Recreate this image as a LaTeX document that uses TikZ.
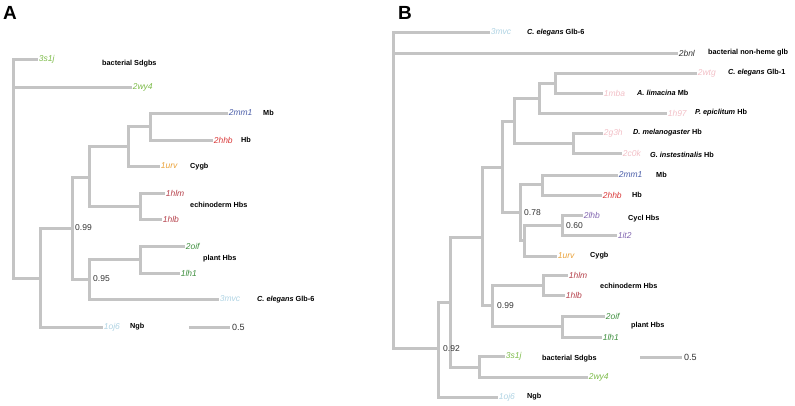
\documentclass[tikz,border=0pt]{standalone}
\usepackage{fontspec}
\setmainfont{Liberation Sans}
\definecolor{brgray}{HTML}{C4C4C4}
\definecolor{cgl}{HTML}{7DBB4A}
\definecolor{cgd}{HTML}{3F8F3F}
\definecolor{cbl}{HTML}{4B5EA8}
\definecolor{crd}{HTML}{D93A3A}
\definecolor{cor}{HTML}{EAA23A}
\definecolor{cdr}{HTML}{B5404A}
\definecolor{clb}{HTML}{AFD3E3}
\definecolor{cpk}{HTML}{F2BFC6}
\definecolor{cpu}{HTML}{8266B0}
\definecolor{cdk}{HTML}{333333}
\newcommand{\myleaf}{\fontsize{8.5}{10}\selectfont\itshape}
\newcommand{\mygrp}{\fontsize{7.3}{9}\selectfont\bfseries}
\newcommand{\mynum}{\fontsize{8.5}{10}\selectfont}
\newcommand{\mypanel}{\fontsize{19}{22}\selectfont\bfseries}
\begin{document}
\begin{tikzpicture}[x=1pt,y=-1pt,
  branch/.style={draw=brgray,line width=3pt},
  leaf/.style={anchor=west,inner sep=0.6pt,font=\myleaf},
  grp/.style={anchor=west,inner sep=0pt,font=\mygrp,text=black},
  supp/.style={anchor=west,inner sep=0pt,font=\mynum,text=cdk},
  panel/.style={anchor=west,inner sep=0pt,font=\mypanel,text=black}]
\useasboundingbox (0,0) rectangle (795,405);

% ================= Panel A =================
\node[panel] (labA) at (3,12.5) {A};
\coordinate (rA) at (13,168);
\coordinate (nA1) at (40,278);
\coordinate (nA2) at (72,228);
\coordinate (nA3) at (89,177);
\coordinate (nA4) at (128,146);
\coordinate (nA5) at (140,206);
\coordinate (nA6) at (89,279);
\coordinate (nA7) at (150,126);
\coordinate (nA8) at (140,259);

\node[leaf,text=cgl] (a3s1j) at (38,59) {3s1j};
\node[leaf,text=cgl] (a2wy4) at (132,87) {2wy4};
\node[leaf,text=cbl] (a2mm1) at (228,113) {2mm1};
\node[leaf,text=crd] (a2hhb) at (213,140) {2hhb};
\node[leaf,text=cor] (a1urv) at (160,166) {1urv};
\node[leaf,text=cdr] (a1hlm) at (165,193) {1hlm};
\node[leaf,text=cdr] (a1hlb) at (162,219) {1hlb};
\node[leaf,text=cgd] (a2oif) at (185,246) {2oif};
\node[leaf,text=cgd] (a1lh1) at (180,273) {1lh1};
\node[leaf,text=clb] (a3mvc) at (219,299) {3mvc};
\node[leaf,text=clb] (a1oj6) at (103,327) {1oj6};

\draw[branch] (rA) |- (a3s1j.west);
\draw[branch] (rA) |- (a2wy4.west);
\draw[branch] (rA) |- (nA1);
\draw[branch] (nA1) |- (nA2);
\draw[branch] (nA1) |- (a1oj6.west);
\draw[branch] (nA2) |- (nA3);
\draw[branch] (nA2) |- (nA6);
\draw[branch] (nA3) |- (nA4);
\draw[branch] (nA3) |- (nA5);
\draw[branch] (nA4) |- (nA7);
\draw[branch] (nA4) |- (a1urv.west);
\draw[branch] (nA7) |- (a2mm1.west);
\draw[branch] (nA7) |- (a2hhb.west);
\draw[branch] (nA5) |- (a1hlm.west);
\draw[branch] (nA5) |- (a1hlb.west);
\draw[branch] (nA6) |- (nA8);
\draw[branch] (nA6) |- (a3mvc.west);
\draw[branch] (nA8) |- (a2oif.west);
\draw[branch] (nA8) |- (a1lh1.west);

\node[supp] (sA1) at (75,228) {0.99};
\node[supp] (sA2) at (93,279) {0.95};

\node[grp] (gA1) at (102,64) {bacterial Sdgbs};
\node[grp] (gA2) at (263,113) {Mb};
\node[grp] (gA3) at (241,140) {Hb};
\node[grp] (gA4) at (190,167) {Cygb};
\node[grp] (gA5) at (190,205) {echinoderm Hbs};
\node[grp] (gA6) at (203,259) {plant Hbs};
\node[grp] (gA7) at (257,300) {{\itshape C. elegans} Glb-6};
\node[grp] (gA8) at (130,327) {Ngb};

\coordinate (sbA1) at (189,327);
\coordinate (sbA2) at (230,327);
\draw[branch] (sbA1) -- (sbA2);
\node[supp,font=\fontsize{9}{10}\selectfont] (sbAl) at (232,327) {0.5};

% ================= Panel B =================
\node[panel] (labB) at (398,12.5) {B};
\coordinate (rB) at (393,190);
\coordinate (nB1) at (438,348);
\coordinate (nB2) at (450,302);
\coordinate (nB3) at (482,237);
\coordinate (nB4) at (479,367);
\coordinate (nB5) at (502,167);
\coordinate (nB6) at (492,305);
\coordinate (nB7) at (543,285);
\coordinate (nB8) at (562,326);
\coordinate (nB9) at (514,121);
\coordinate (nB10) at (520,212);
\coordinate (nB11) at (539,98);
\coordinate (nB12) at (573,143);
\coordinate (nB13) at (555,83);
\coordinate (nB14) at (542,184);
\coordinate (nB15) at (524,240);
\coordinate (nB16) at (562,225);

\node[leaf,text=clb] (b3mvc) at (490,32) {3mvc};
\node[leaf,text=cdk] (b2bnl) at (678,53) {2bnl};
\node[leaf,text=cpk] (b2wtg) at (697,73) {2wtg};
\node[leaf,text=cpk] (b1mba) at (603,93) {1mba};
\node[leaf,text=cpk] (b1h97) at (667,113) {1h97};
\node[leaf,text=cpk] (b2g3h) at (603,133) {2g3h};
\node[leaf,text=cpk] (b2c0k) at (622,153) {2c0k};
\node[leaf,text=cbl] (b2mm1) at (618,175) {2mm1};
\node[leaf,text=crd] (b2hhb) at (602,195) {2hhb};
\node[leaf,text=cpu] (b2lhb) at (583,215) {2lhb};
\node[leaf,text=cpu] (b1it2) at (617,235) {1it2};
\node[leaf,text=cor] (b1urv) at (557,256) {1urv};
\node[leaf,text=cdr] (b1hlm) at (568,275) {1hlm};
\node[leaf,text=cdr] (b1hlb) at (565,295) {1hlb};
\node[leaf,text=cgd] (b2oif) at (605,316) {2oif};
\node[leaf,text=cgd] (b1lh1) at (602,337) {1lh1};
\node[leaf,text=cgl] (b3s1j) at (505,356) {3s1j};
\node[leaf,text=cgl] (b2wy4) at (588,377) {2wy4};
\node[leaf,text=clb] (b1oj6) at (498,397) {1oj6};

\draw[branch] (rB) |- (b3mvc.west);
\draw[branch] (rB) |- (b2bnl.west);
\draw[branch] (rB) |- (nB1);
\draw[branch] (nB1) |- (nB2);
\draw[branch] (nB1) |- (b1oj6.west);
\draw[branch] (nB2) |- (nB3);
\draw[branch] (nB2) |- (nB4);
\draw[branch] (nB4) |- (b3s1j.west);
\draw[branch] (nB4) |- (b2wy4.west);
\draw[branch] (nB3) |- (nB5);
\draw[branch] (nB3) |- (nB6);
\draw[branch] (nB6) |- (nB7);
\draw[branch] (nB6) |- (nB8);
\draw[branch] (nB7) |- (b1hlm.west);
\draw[branch] (nB7) |- (b1hlb.west);
\draw[branch] (nB8) |- (b2oif.west);
\draw[branch] (nB8) |- (b1lh1.west);
\draw[branch] (nB5) |- (nB9);
\draw[branch] (nB5) |- (nB10);
\draw[branch] (nB9) |- (nB11);
\draw[branch] (nB9) |- (nB12);
\draw[branch] (nB11) |- (nB13);
\draw[branch] (nB11) |- (b1h97.west);
\draw[branch] (nB13) |- (b2wtg.west);
\draw[branch] (nB13) |- (b1mba.west);
\draw[branch] (nB12) |- (b2g3h.west);
\draw[branch] (nB12) |- (b2c0k.west);
\draw[branch] (nB10) |- (nB14);
\draw[branch] (nB10) |- (nB15);
\draw[branch] (nB14) |- (b2mm1.west);
\draw[branch] (nB14) |- (b2hhb.west);
\draw[branch] (nB15) |- (nB16);
\draw[branch] (nB15) |- (b1urv.west);
\draw[branch] (nB16) |- (b2lhb.west);
\draw[branch] (nB16) |- (b1it2.west);

\node[supp] (sB1) at (443,349) {0.92};
\node[supp] (sB2) at (497,306) {0.99};
\node[supp] (sB3) at (524,213) {0.78};
\node[supp] (sB4) at (566,226) {0.60};

\node[grp] (gB1) at (527,33) {{\itshape C. elegans} Glb-6};
\node[grp] (gB2) at (708,53) {bacterial non-heme glb};
\node[grp] (gB3) at (728,73) {{\itshape C. elegans} Glb-1};
\node[grp] (gB4) at (637,93) {{\itshape A. limacina} Mb};
\node[grp] (gB5) at (695,113) {{\itshape P. epiclitum} Hb};
\node[grp] (gB6) at (633,133) {{\itshape D. melanogaster} Hb};
\node[grp] (gB7) at (650,155) {{\itshape G. instestinalis} Hb};
\node[grp] (gB8) at (656,175) {Mb};
\node[grp] (gB9) at (632,195) {Hb};
\node[grp] (gB10) at (628,219) {Cycl Hbs};
\node[grp] (gB11) at (590,256) {Cygb};
\node[grp] (gB12) at (600,286) {echinoderm Hbs};
\node[grp] (gB13) at (631,326) {plant Hbs};
\node[grp] (gB14) at (542,359) {bacterial Sdgbs};
\node[grp] (gB15) at (527,397) {Ngb};

\coordinate (sbB1) at (640,357);
\coordinate (sbB2) at (682,357);
\draw[branch] (sbB1) -- (sbB2);
\node[supp,font=\fontsize{9}{10}\selectfont] (sbBl) at (684,357) {0.5};
\end{tikzpicture}
\end{document}
